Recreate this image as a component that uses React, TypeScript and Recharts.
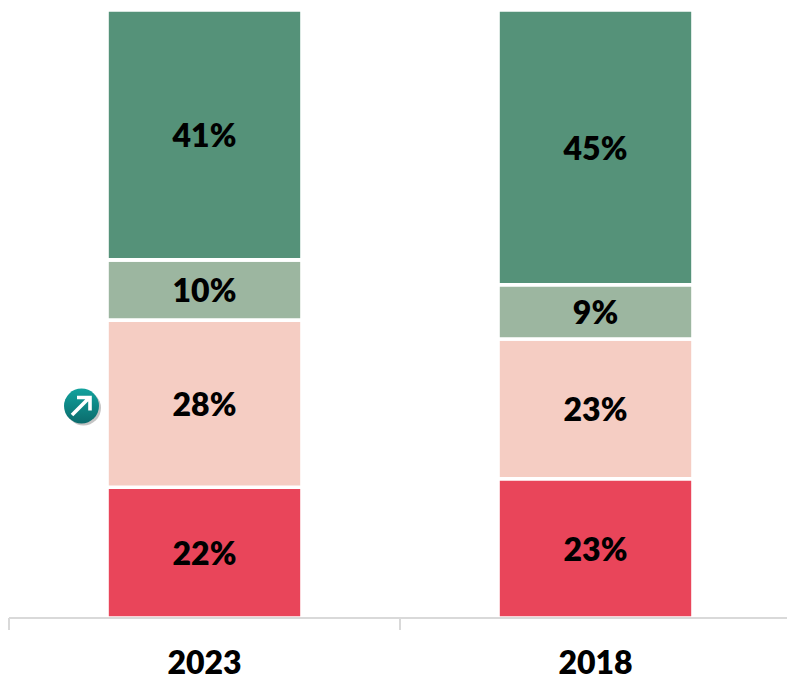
import { BarChart, Bar, XAxis, YAxis, LabelList } from "recharts";

const years = ["2023", "2018"];
const redValues = [21.5, 22.9];
const pinkValues = [27.5, 23.0];
const sageValues = [9.9, 8.9];
const greenValues = [41.1, 45.2];

const data = years.map((year, i) => ({
  year,
  red: redValues[i],
  pink: pinkValues[i],
  sage: sageValues[i],
  green: greenValues[i],
}));

const labelStyle = { fill: "#000", fontSize: 32, fontWeight: 800, fontFamily: "Lato" };
const pct = (v: any) => `${Math.round(Number(v))}%`;

// category label plus the separator tick at the left edge of its band
function YearTick({ x, y, payload }: any) {
  return (
    <g>
      <line x1={x - 195.5} x2={x - 195.5} y1={y} y2={y + 12} stroke="#d9d9d9" strokeWidth={2} />
      <text x={x} y={y + 56} textAnchor="middle" fill="#000" fontSize={32} fontWeight={800} fontFamily="Lato">
        {payload.value}
      </text>
    </g>
  );
}

function ArrowBadge() {
  return (
    <svg width={50} height={50} style={{ position: "absolute", left: 58, top: 383 }}>
      <defs>
        <linearGradient id="badge" x1="0" y1="0" x2="0" y2="1">
          <stop offset="0%" stopColor="#12a29d" />
          <stop offset="100%" stopColor="#0b6b6c" />
        </linearGradient>
      </defs>
      <circle cx={25.5} cy={25} r={17.5} fill="#c4c4c4" />
      <circle cx={23.5} cy={23} r={17.5} fill="url(#badge)" />
      <path d="M14 32 L31 15 M19 14.5 H32 V27.5" fill="none" stroke="#fff" strokeWidth={3.6} />
    </svg>
  );
}

export default function App() {
  return (
    <div style={{ position: "absolute", left: 0, top: 0, width: 787, height: 680, overflow: "hidden", background: "#fff" }}>
      <BarChart
        width={800}
        height={680}
        data={data}
        barCategoryGap={0}
        barSize={195}
        margin={{ top: 10, right: 9, bottom: 0, left: 9 }}
        style={{ position: "absolute", left: 0, top: 0 }}
      >
        <XAxis
          dataKey="year"
          height={62}
          interval={0}
          stroke="#d9d9d9"
          strokeWidth={2}
          tickLine={false}
          tickSize={0}
          tickMargin={0}
          tick={<YearTick />}
        />
        <YAxis hide domain={[0, 100]} />
        {(["red", "pink", "sage", "green"] as const).map((key) => (
          <Bar
            key={key}
            dataKey={key}
            stackId="a"
            fill={{ red: "#e9455a", pink: "#f5cdc3", sage: "#9cb6a0", green: "#559279" }[key]}
            stroke="#fff"
            strokeWidth={3.6}
            isAnimationActive={false}
          >
            <LabelList dataKey={key} position="center" formatter={pct} style={labelStyle} dy={1} />
          </Bar>
        ))}
      </BarChart>
      <ArrowBadge />
    </div>
  );
}
